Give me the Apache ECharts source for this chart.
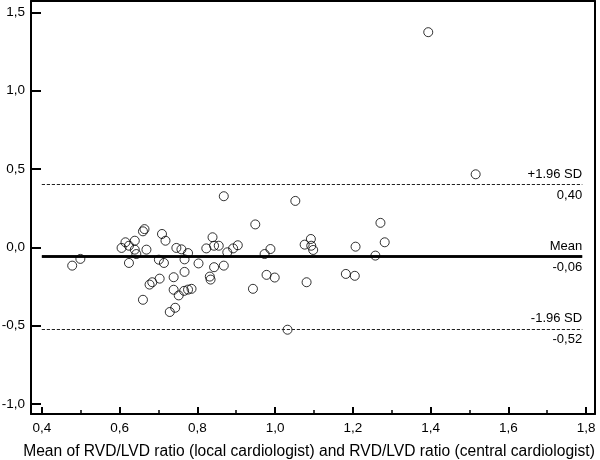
<!DOCTYPE html>
<html>
<head>
<meta charset="utf-8">
<script src="https://cdn.jsdelivr.net/npm/echarts@6/dist/echarts.min.js"></script>
<style>html,body{margin:0;padding:0;background:#fff}#c{width:600px;height:460px}</style>
</head>
<body>
<div id="c"></div>
<script>
// Mean of the two ratios (x) and difference (y)
var meanRatio = [0.478,0.499,0.605,0.615,0.624,0.624,0.639,0.639,0.643,0.660,0.664,0.669,0.660,0.677,0.684,0.701,0.703,0.709,0.714,0.718,
  0.729,0.739,0.739,0.743,0.746,0.752,0.759,0.767,0.767,0.776,0.766,0.776,0.785,0.803,0.823,0.832,0.834,0.839,0.843,0.843,
  0.855,0.868,0.868,0.877,0.892,0.904,0.943,0.949,0.973,0.978,0.988,0.999,1.032,1.052,1.076,1.081,1.092,1.093,1.098,1.182,
  1.205,1.207,1.258,1.271,1.282,1.394,1.516];
var difference = [-0.117,-0.074,-0.004,0.032,0.010,-0.100,0.042,-0.015,-0.043,0.102,0.116,-0.015,-0.335,-0.238,-0.223,-0.079,-0.200,0.085,-0.100,0.042,
  -0.413,-0.191,-0.271,-0.386,-0.004,-0.307,-0.013,-0.077,-0.157,-0.037,-0.278,-0.270,-0.265,-0.103,-0.007,-0.187,-0.206,0.064,0.010,-0.127,
  0.010,0.326,-0.117,-0.032,-0.007,0.013,-0.265,0.146,-0.043,-0.176,-0.011,-0.193,-0.526,0.296,0.017,-0.223,0.053,0.010,-0.017,-0.170,
  -0.182,0.004,-0.053,0.156,0.032,1.373,0.466];
var limitValues = [0.40, -0.06, -0.52];
var limitNames = ['+1.96 SD', 'Mean', '-1.96 SD'];
var limitLabels = ['0,40', '-0,06', '-0,52'];
var xTicks = [0.4, 0.6, 0.8, 1.0, 1.2, 1.4, 1.6, 1.8];
var xMinorTicks = [0.5, 0.7, 0.9, 1.1, 1.3, 1.5, 1.7];
var yTicks = [-1.0, -0.5, 0.0, 0.5, 1.0, 1.5];
var xTitle = 'Mean of RVD/LVD ratio (local cardiologist) and RVD/LVD ratio (central cardiologist)';
var lineStart = 0.4, lineEnd = 1.79;

var FONT = '"Liberation Sans", Arial, Helvetica, sans-serif';
var X_MIN = 0.372, X_MAX = 1.823, Y_MIN = -1.064, Y_MAX = 1.572;
function comma(v){ return v.toFixed(1).replace('.', ','); }

var pts = meanRatio.map(function(x,i){ return [x, difference[i]]; });

var markData = [];
limitValues.forEach(function(v,i){
  var styleLine = i === 1 ? {color:'#000', width:2.5, type:'solid'} : {color:'#222', width:1, type:[3,2]};
  markData.push([
    {coord:[lineStart, v], lineStyle: styleLine, label:{show:true, position:'insideEndTop', formatter: limitNames[i], distance:[0,4]}},
    {coord:[lineEnd, v]}
  ]);
  markData.push([
    {coord:[lineStart, v], lineStyle: styleLine, label:{show:true, position:'insideEndBottom', formatter: limitLabels[i], distance:[0,4]}},
    {coord:[lineEnd, v]}
  ]);
});

function frameAxis(min, max, pos){
  return {
    type:'value', min:min, max:max, position:pos,
    axisLine:{show:true, onZero:false, lineStyle:{color:'#000', width:2}},
    axisTick:{show:false}, axisLabel:{show:false}, splitLine:{show:false}
  };
}

var chart = echarts.init(document.getElementById('c'), null, {renderer:'canvas'});
chart.setOption({
  animation:false,
  backgroundColor:'#fff',
  grid:{left:31, right:5, top:1, bottom:46, outerBoundsMode:'none'},
  xAxis:[{
    type:'value', min:X_MIN, max:X_MAX, position:'bottom',
    axisLine:{show:true, onZero:false, lineStyle:{color:'#000', width:2}},
    axisTick:{show:true, inside:true, length:7, customValues:xTicks, lineStyle:{color:'#000', width:2}},
    axisLabel:{customValues:xTicks, formatter:function(v){return comma(v);}, color:'#000', fontSize:13.5, fontFamily:FONT, margin:7},
    splitLine:{show:false},
    name: xTitle, nameLocation:'middle', nameGap:30,
    nameTextStyle:{color:'#000', fontSize:15.6, fontFamily:FONT, padding:[0,8,0,0]}
  },{
    type:'value', min:X_MIN, max:X_MAX, position:'bottom',
    axisLine:{show:false, onZero:false},
    axisTick:{show:true, inside:true, length:4, customValues:xMinorTicks, lineStyle:{color:'#000', width:1.5}},
    axisLabel:{show:false},
    splitLine:{show:false}
  },
  frameAxis(X_MIN, X_MAX, 'top')
  ],
  yAxis:[{
    type:'value', min:Y_MIN, max:Y_MAX, position:'left',
    axisLine:{show:true, onZero:false, lineStyle:{color:'#000', width:2}},
    axisTick:{show:true, inside:true, length:10, customValues:yTicks, lineStyle:{color:'#000', width:2}},
    axisLabel:{customValues:yTicks, formatter:function(v){return comma(v);}, color:'#000', fontSize:13.5, fontFamily:FONT, margin:6},
    splitLine:{show:false}
  },
  frameAxis(Y_MIN, Y_MAX, 'right')
  ],
  series:[{
    type:'scatter',
    data:pts,
    symbol:'circle',
    symbolSize:9,
    itemStyle:{color:'rgba(0,0,0,0)', borderColor:'#000', borderWidth:1},
    markLine:{
      silent:true,
      symbol:['none','none'],
      label:{color:'#000', fontSize:13, fontFamily:FONT},
      data:markData
    }
  }]
});
</script>
</body>
</html>
